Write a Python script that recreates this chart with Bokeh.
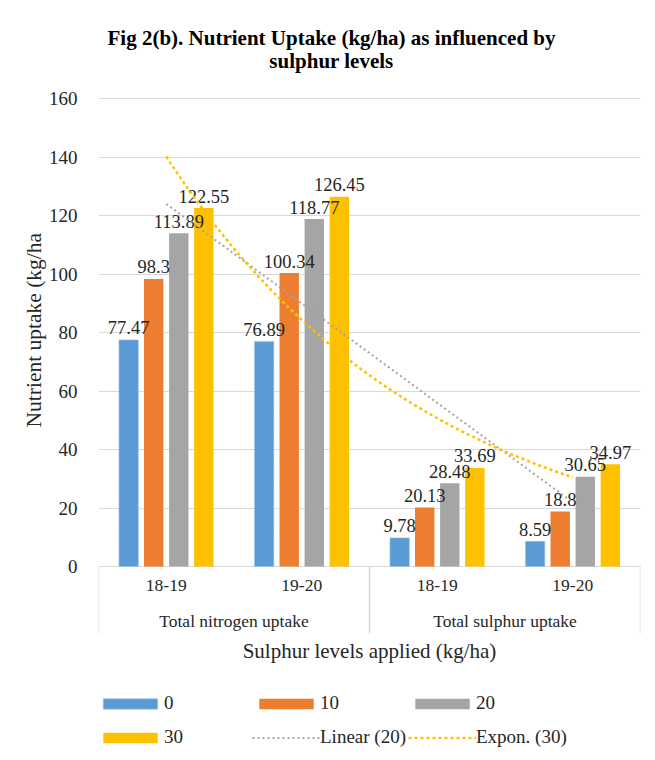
import numpy as np
from bokeh.plotting import figure
from bokeh.models import (FactorRange, Range1d, ColumnDataSource, Legend, LegendItem,
                          FixedTicker, Title)
from bokeh.transform import dodge
from bokeh.core.properties import value
from bokeh.embed import file_html
from bokeh.resources import INLINE

# ---- data -----------------------------------------------------------------
nutrients = ["Total nitrogen uptake", "Total sulphur uptake"]
seasons = ["18-19", "19-20"]
levels = ["0", "10", "20", "30"]          # sulphur applied, kg/ha
uptake_0 = [77.47, 76.89, 9.78, 8.59]
uptake_10 = [98.3, 100.34, 20.13, 18.8]
uptake_20 = [113.89, 118.77, 28.48, 30.65]
uptake_30 = [122.55, 126.45, 33.69, 34.97]
y_ticks = [0, 20, 40, 60, 80, 100, 120, 140, 160]

FONT = "Liberation Serif"
TXT = "#262626"
GRID = "#D9D9D9"
colors = ["#5B9BD5", "#ED7D31", "#A5A5A5", "#FFC000"]
offsets = [-0.2775, -0.0925, 0.0925, 0.2775]
bar_w = 0.143

factors = [(n, s) for n in nutrients for s in seasons]
series = [uptake_0, uptake_10, uptake_20, uptake_30]

data = {"cat": factors}
for lvl, vals in zip(levels, series):
    data["v" + lvl] = vals
    data["t" + lvl] = [str(v) for v in vals]
source = ColumnDataSource(data)

# The frame runs the full height of the page: the title band sits above 160,
# the category band, axis title and legend below 0.
unit = 468 / 160.0                      # pixels per kg/ha
y_lo = -194 / unit
y_hi = 160 + 98 / unit

p = figure(x_range=FactorRange(*factors, factor_padding=0, group_padding=0,
                               subgroup_padding=0, range_padding=0),
           y_range=Range1d(y_lo, y_hi),
           width=655, height=760, output_backend="svg", toolbar_location=None,
           min_border_left=98, min_border_right=15, min_border_top=0,
           min_border_bottom=0)
p.outline_line_color = None
p.background_fill_color = "white"

# ---- axes and grid --------------------------------------------------------
p.xaxis.visible = False
p.xgrid.visible = False
p.ygrid.ticker = FixedTicker(ticks=y_ticks)
p.ygrid.grid_line_color = GRID
p.ygrid.grid_line_width = 1

yax = p.yaxis[0]
yax.ticker = FixedTicker(ticks=y_ticks)
yax.axis_line_color = None
yax.major_tick_line_color = None
yax.minor_tick_line_color = None
yax.major_label_standoff = 15
yax.major_label_text_font = FONT
yax.major_label_text_font_size = "19px"
yax.major_label_text_color = TXT

# y axis title, placed level with the bar area
p.add_layout(Title(text="Nutrient uptake (kg/ha", align="left", offset=333,
                   text_font=FONT, text_font_size="21.5px", text_font_style="normal",
                   text_color=TXT, standoff=0), "left")

# ---- bars and value labels -----------------------------------------------
bars = []
for lvl, col, off in zip(levels, colors, offsets):
    xpos = dodge("cat", off, range=p.x_range)
    if lvl == "0":
        r = p.vbar(x=xpos, top="v" + lvl, width=bar_w, source=source,
                   fill_color=col, line_color="#9DC3E6", line_dash="2 1",
                   line_width=1)
    else:
        r = p.vbar(x=xpos, top="v" + lvl, width=bar_w, source=source,
                   fill_color=col, line_color=None)
    bars.append(r)

for lvl, off in zip(levels, offsets):
    p.text(x=dodge("cat", off, range=p.x_range), y="v" + lvl, text="t" + lvl,
           source=source, text_font=value(FONT), text_font_size="18.5px",
           text_color=TXT, text_align="center", text_baseline="alphabetic",
           y_offset=-12)

# ---- trend lines (fitted over the four categories) -----------------------
k = np.arange(1, len(factors) + 1)
lin = np.polyfit(k, uptake_20, 1)
lin_x = np.array([k[0], k[-1]], dtype=float)
lin_r = p.line(x=lin_x - 0.5, y=np.polyval(lin, lin_x), line_color="#A5A5A5",
               line_width=2, line_dash="2 3")

ex = np.polyfit(k, np.log(uptake_30), 1)
ex_x = np.linspace(k[0], k[-1], 61)
ex_r = p.line(x=ex_x - 0.5, y=np.exp(np.polyval(ex, ex_x)), line_color="#FFC000",
              line_width=2.5, line_dash="3 3")

# ---- two-level category axis below zero ----------------------------------
sep_depth = -67 / unit
p.segment(x0=[0, 2, 4], y0=[0, 0, 0], x1=[0, 2, 4], y1=[sep_depth] * 3,
          line_color=GRID, line_width=1.5)

p.text(x=[i + 0.5 for i in range(len(factors))], y=[0] * len(factors),
       text=[f[1] for f in factors], y_offset=19,
       text_font=value(FONT), text_font_size="17.5px", text_color=TXT,
       text_align="center", text_baseline="middle")

p.text(x=[1.0, 3.0], y=[0, 0], text=nutrients, y_offset=54,
       text_font=value(FONT), text_font_size="17.5px", text_color=TXT,
       text_align="center", text_baseline="middle")

p.text(x=[2.0], y=[0], text=["Sulphur levels applied (kg/ha)"], y_offset=84,
       text_font=value(FONT), text_font_size="21px", text_color=TXT,
       text_align="center", text_baseline="middle")

# ---- chart title -----------------------------------------------------------
p.text(x=[2.0, 2.0], y=[160, 160],
       text=["Fig 2(b). Nutrient Uptake (kg/ha) as influenced by", "sulphur levels"],
       x_offset=-38, y_offset=[-61, -38],
       text_font=value(FONT), text_font_size="21px", text_font_style="bold",
       text_color="#000000", text_align="center", text_baseline="alphabetic")

# ---- legend ---------------------------------------------------------------
items = [LegendItem(label=l, renderers=[r]) for l, r in zip(levels, bars)]
items += [LegendItem(label="Linear (20)", renderers=[lin_r]),
          LegendItem(label="Expon. (30)", renderers=[ex_r])]
legend = Legend(items=items, location=(-2, 6), orientation="horizontal",
                ncols=3, glyph_width=68, glyph_height=13, label_standoff=0,
                label_width=88, label_height=34, spacing=0, padding=0, margin=0,
                border_line_color=None, background_fill_alpha=0,
                label_text_font=FONT, label_text_font_size="19px",
                label_text_color=TXT)
p.add_layout(legend)

open("out.html", "w").write(file_html(p, INLINE))
